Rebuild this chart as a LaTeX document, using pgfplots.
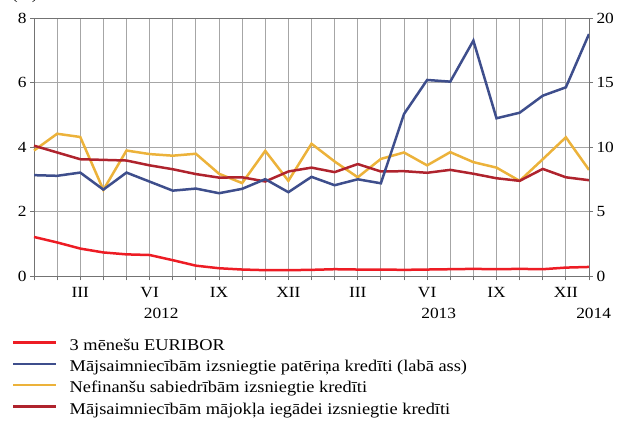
\documentclass[border=0pt]{standalone}
\usepackage{fontspec}
\setmainfont{Liberation Serif}[FakeStretch=1.12]
\usepackage{pgfplots}
\pgfplotsset{compat=1.18}
\definecolor{cEur}{RGB}{237,28,36}
\definecolor{cBlue}{RGB}{62,78,140}
\definecolor{cYel}{RGB}{236,178,58}
\definecolor{cDred}{RGB}{175,35,45}
\pgfplotstableread{
x eur blue yel dred
0 1.22 7.84 3.90 4.05
1 1.05 7.79 4.42 3.84
2 0.86 8.04 4.32 3.63
3 0.74 6.72 2.68 3.61
4 0.68 8.04 3.90 3.59
5 0.66 7.34 3.79 3.44
6 0.50 6.64 3.74 3.32
7 0.33 6.80 3.80 3.17
8 0.25 6.44 3.18 3.06
9 0.21 6.78 2.89 3.07
10 0.19 7.53 3.89 2.94
11 0.19 6.52 2.96 3.25
12 0.20 7.71 4.11 3.37
13 0.22 7.06 3.56 3.23
14 0.21 7.52 3.07 3.48
15 0.21 7.21 3.64 3.25
16 0.20 12.58 3.84 3.26
17 0.21 15.22 3.44 3.21
18 0.22 15.09 3.85 3.30
19 0.23 18.27 3.54 3.18
20 0.22 12.25 3.37 3.04
21 0.23 12.68 2.96 2.96
22 0.22 14.00 3.63 3.33
23 0.27 14.65 4.31 3.07
24 0.29 18.78 3.30 2.98
}\datatable
\begin{document}
\begin{tikzpicture}[x=1pt,y=1pt]
\useasboundingbox (0,0) rectangle (621,421);
\node[anchor=base west, font=\fontsize{15}{18}\selectfont, inner sep=0pt] at (12,421) {(\%)};
\begin{axis}[
  at={(34pt,144.7pt)}, anchor=south west,
  scale only axis, width=555pt, height=258pt,
  xmin=0, xmax=24, ymin=0, ymax=8,
  xtick={0,...,24},
  xticklabels={,,III,,,VI,,,IX,,,XII,,,III,,,VI,,,IX,,,XII,},
  xticklabel style={yshift=-3.5pt},
  ytick={0,2,4,6,8},
  grid=major,
  major grid style={draw=black!35, line width=0.8pt},
  axis line style={draw=black!55, line width=0.9pt},
  tick align=outside, tick pos=left,
  major tick length=4pt,
  major tick style={draw=black!55, line width=0.8pt},
  tick label style={font=\fontsize{15.5}{18}\selectfont},
  /pgf/number format/assume math mode=true,
  clip=false,
  legend style={at={(0,0)}, anchor=north west, xshift=-22pt, yshift=-62.7pt,
    draw=none, fill=none, inner sep=0pt, row sep=6.8pt,
    font=\fontsize{16.4}{18}\selectfont,
    nodes={inner sep=0pt, text height=11pt, text depth=3.5pt},
    /tikz/every odd column/.append style={column sep=12pt}},
  legend cell align=left,
  legend image code/.code={\draw[#1, line width=2.5pt] (0pt,4pt) -- (43pt,4pt);},
]
\addplot[cEur, line width=2.5pt] table[x=x,y=eur]{\datatable};
\addlegendentry{3 mēnešu EURIBOR}
\addlegendimage{cBlue, line width=2.5pt}
\addlegendentry{Mājsaimniecībām izsniegtie patēriņa kredīti (labā ass)}
\addplot[cYel, line width=2.5pt] table[x=x,y=yel]{\datatable};
\addlegendentry{Nefinanšu sabiedrībām izsniegtie kredīti}
\addplot[cDred, line width=2.5pt] table[x=x,y=dred]{\datatable};
\addlegendentry{Mājsaimniecībām mājokļa iegādei izsniegtie kredīti}
\node[font=\fontsize{15.5}{18}\selectfont] at (axis cs:5.5,0) [yshift=-37.5pt] {2012};
\node[font=\fontsize{15.5}{18}\selectfont] at (axis cs:17.5,0) [yshift=-37.5pt] {2013};
\node[font=\fontsize{15.5}{18}\selectfont] at (axis cs:24.2,0) [yshift=-37.5pt] {2014};
\end{axis}
\begin{axis}[
  at={(34pt,144.7pt)}, anchor=south west,
  scale only axis, width=555pt, height=258pt,
  xmin=0, xmax=24, ymin=0, ymax=20,
  axis x line=none,
  axis y line*=right,
  ytick={0,5,10,15,20},
  axis line style={draw=black!55, line width=0.9pt},
  tick align=outside,
  major tick length=4pt,
  major tick style={draw=black!55, line width=0.8pt},
  tick label style={font=\fontsize{15.5}{18}\selectfont},
  /pgf/number format/assume math mode=true,
]
\addplot[cBlue, line width=2.5pt] table[x=x,y=blue]{\datatable};
\end{axis}
\end{tikzpicture}
\end{document}
